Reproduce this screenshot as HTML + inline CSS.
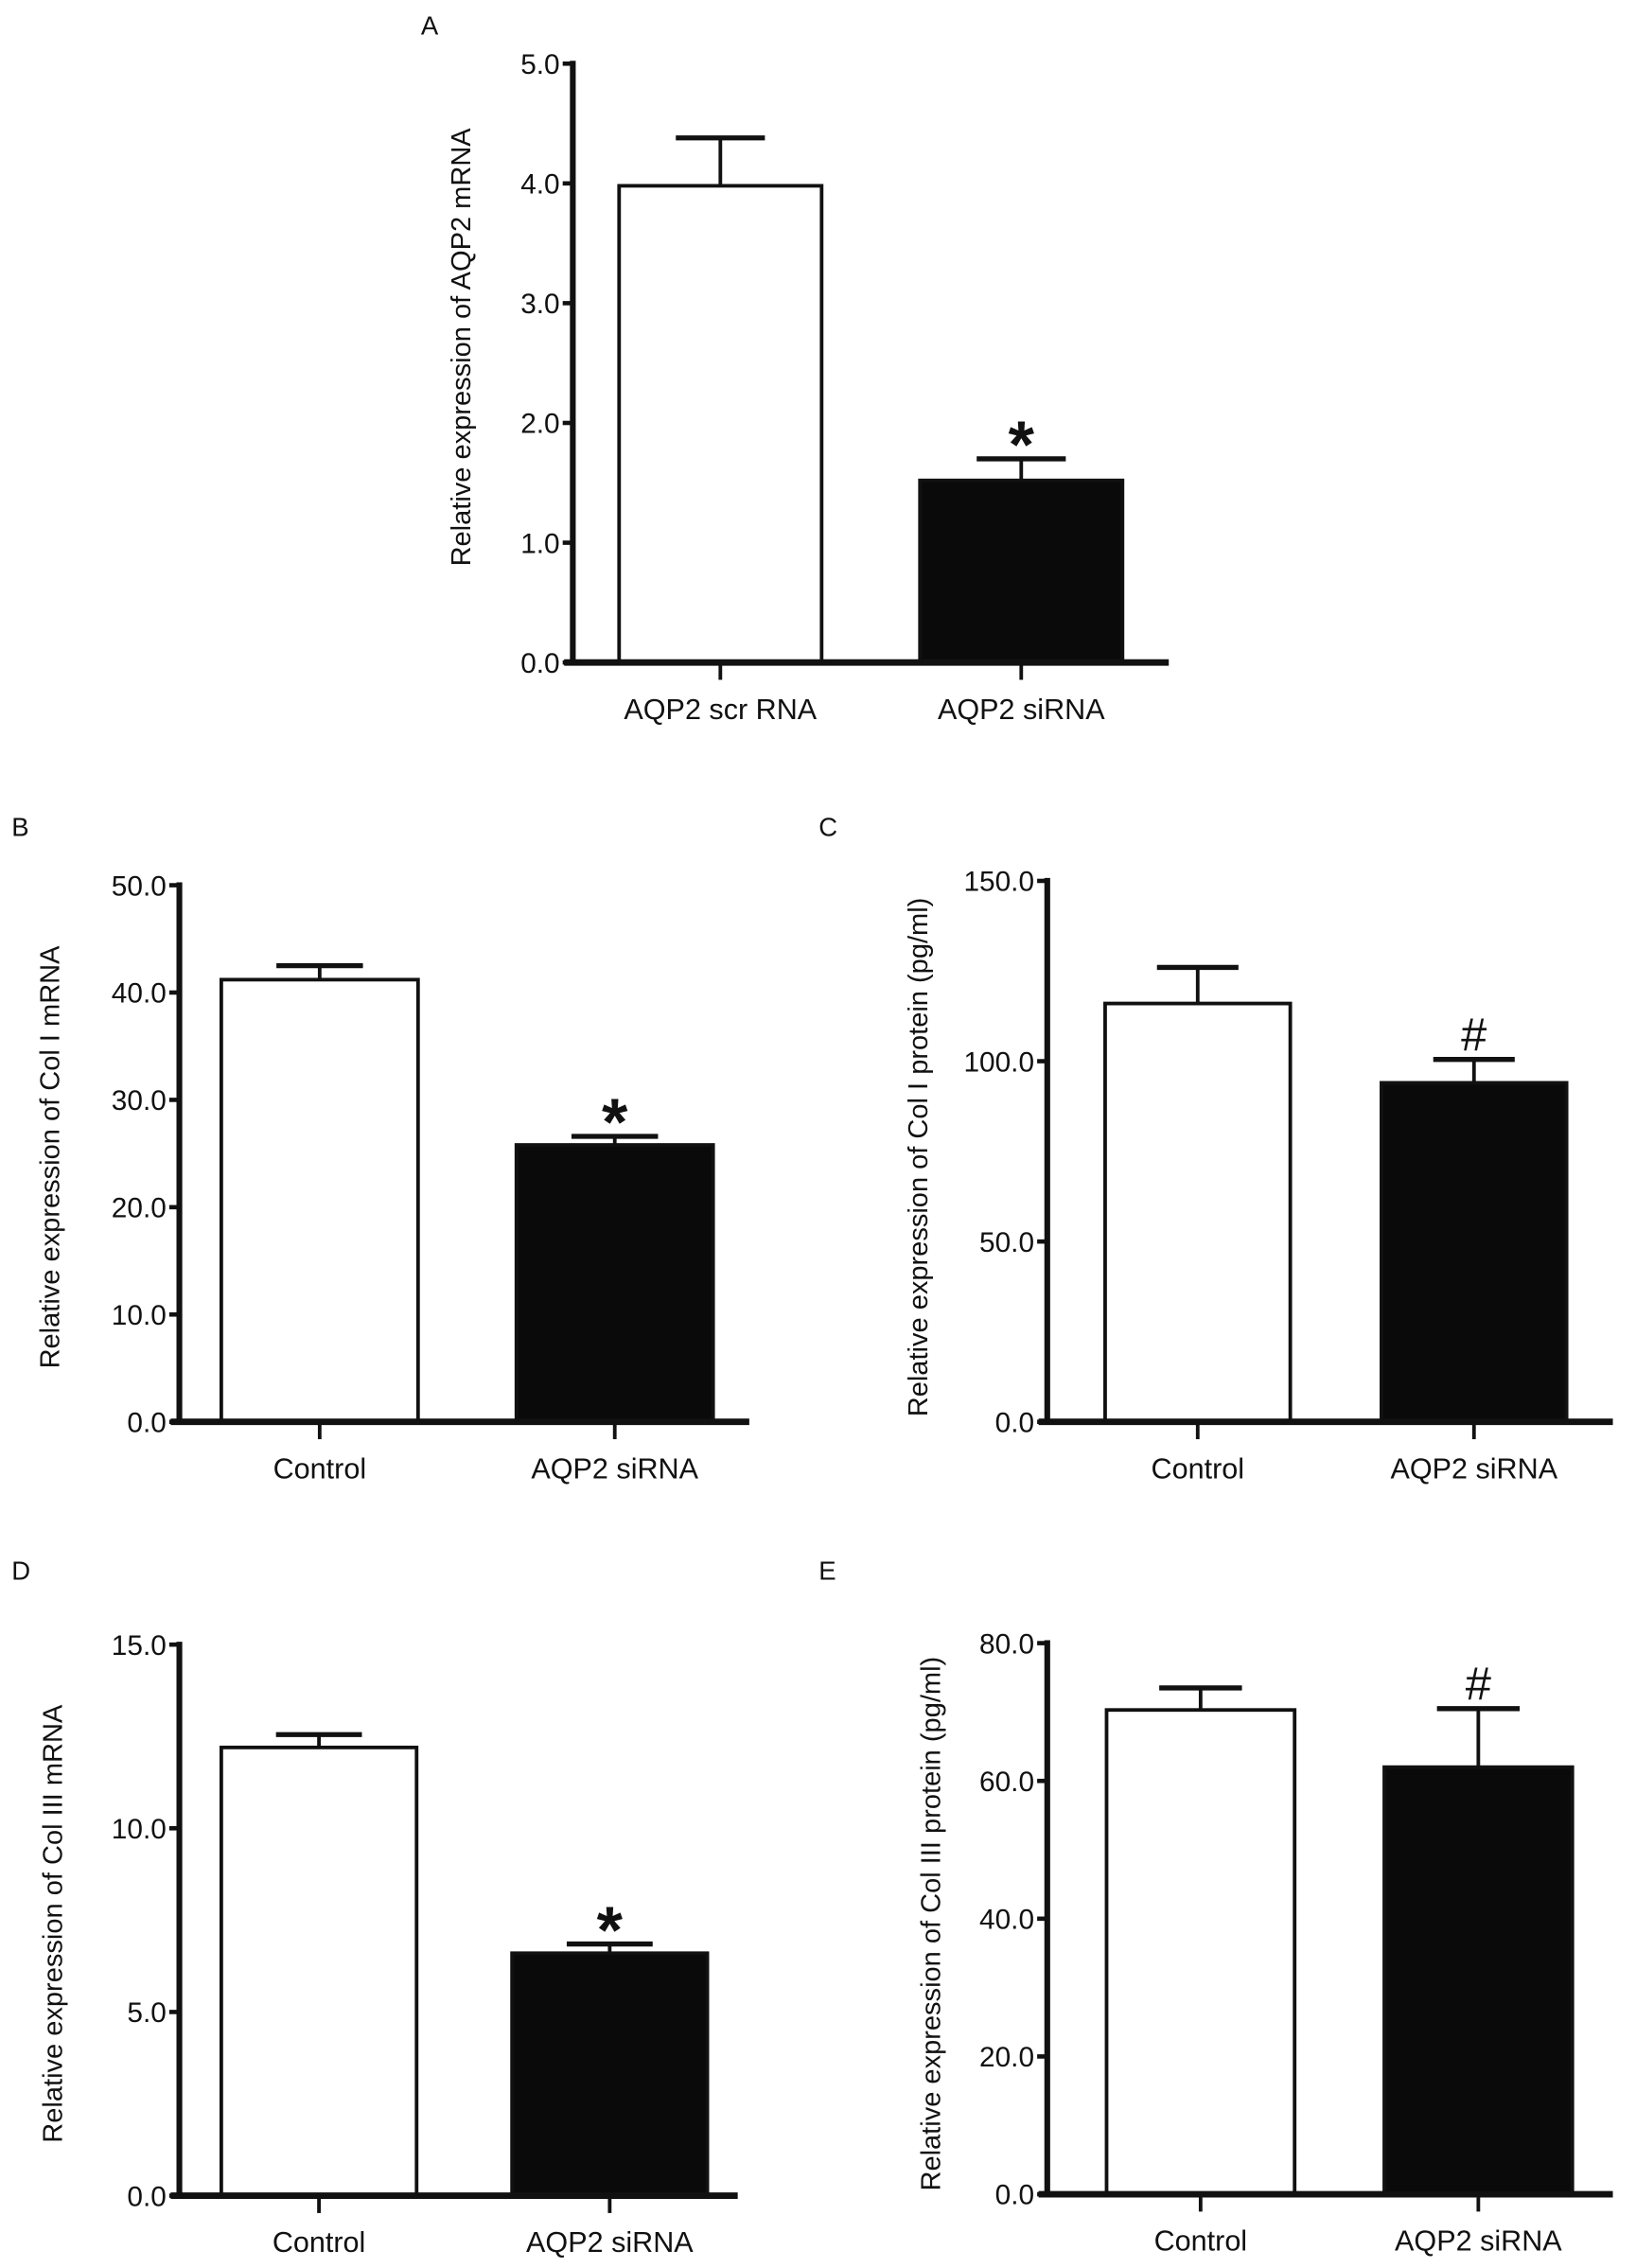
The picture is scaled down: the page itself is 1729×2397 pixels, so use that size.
<!DOCTYPE html>
<html><head><meta charset="utf-8">
<style>
html,body{margin:0;padding:0;background:#fff;}
svg{display:block;}
text{font-family:"Liberation Sans",Arial,sans-serif;fill:#111;}
</style></head>
<body>
<svg id="fig" width="1729" height="2397" viewBox="0 0 1131 1568" preserveAspectRatio="none" xmlns="http://www.w3.org/2000/svg"></svg>
<script>
// Panel data
const categoriesA = ["AQP2 scr RNA", "AQP2 siRNA"];
const valuesA = [3.98, 1.52];
const errorsA = [4.38, 1.70];
const ticksA = [0, 1, 2, 3, 4, 5];
const tickLabelsA = ["0.0", "1.0", "2.0", "3.0", "4.0", "5.0"];

const categoriesB = ["Control", "AQP2 siRNA"];
const valuesB = [41.2, 25.8];
const errorsB = [42.5, 26.6];
const ticksB = [0, 10, 20, 30, 40, 50];
const tickLabelsB = ["0.0", "10.0", "20.0", "30.0", "40.0", "50.0"];

const categoriesC = ["Control", "AQP2 siRNA"];
const valuesC = [116, 94];
const errorsC = [126, 100.5];
const ticksC = [0, 50, 100, 150];
const tickLabelsC = ["0.0", "50.0", "100.0", "150.0"];

const categoriesD = ["Control", "AQP2 siRNA"];
const valuesD = [12.2, 6.6];
const errorsD = [12.55, 6.85];
const ticksD = [0, 5, 10, 15];
const tickLabelsD = ["0.0", "5.0", "10.0", "15.0"];

const categoriesE = ["Control", "AQP2 siRNA"];
const valuesE = [70.3, 62.0];
const errorsE = [73.5, 70.5];
const ticksE = [0, 20, 40, 60, 80];
const tickLabelsE = ["0.0", "20.0", "40.0", "60.0", "80.0"];

const NS = "http://www.w3.org/2000/svg";
const svg = document.getElementById("fig");
function mk(tag, attrs, parent, txt){
  const e = document.createElementNS(NS, tag);
  for (const k in attrs) e.setAttribute(k, attrs[k]);
  if (txt !== undefined) e.textContent = txt;
  (parent || svg).appendChild(e);
  return e;
}

function panel(cfg){
  const g = mk("g", {});
  
  
  const y = v => cfg.y0 - (v / cfg.max) * (cfg.y0 - cfg.yTop);
  const lt = mk("text", {x: cfg.lx, y: cfg.ly, "font-size": 18}, g, cfg.letter);
  
  
  const yt = mk("text", {x: 0, y: 0, "font-size": 19, "text-anchor": "middle",
    transform: `translate(${cfg.tx},${cfg.tcy}) rotate(-90)`}, g, cfg.title);
  
  
  for (let i = 0; i < cfg.vals.length; i++){
    const x0 = cfg.bx[i], w = cfg.bw;
    const cx = x0 + w / 2;
    const top = y(cfg.vals[i]), et = y(cfg.errs[i]);
    const el = mk("line", {x1: cx, x2: cx, y1: top, y2: et, stroke: "#111", "stroke-width": 2.5}, g);
    
    
    const cap = mk("line", {x1: cx - w * 0.22, x2: cx + w * 0.22, y1: et, y2: et, stroke: "#111", "stroke-width": 3.5}, g);
    
    
    const r = mk("rect", {x: x0, y: top, width: w, height: cfg.y0 - top,
      fill: i === 0 ? "#fff" : "#0a0a0a", stroke: "#111", "stroke-width": 2.5}, g);
    
    
    const xt = mk("line", {x1: cx, x2: cx, y1: cfg.y0, y2: cfg.y0 + 12, stroke: "#111", "stroke-width": 2.5}, g);
    
    
    const xl = mk("text", {x: cx, y: cfg.y0 + 39, "font-size": 20, "text-anchor": "middle"}, g, cfg.cats[i]);
    
    
    if (i === 1){
      const m = mk("text", {x: cx, y: et - cfg.markOff + (cfg.mark === "*" ? 14 : 0), "font-size": cfg.mark === "*" ? 46 : 32,
        "text-anchor": "middle", "font-weight": cfg.mark === "*" ? "bold" : "normal",
        "font-family": cfg.mark === "*" ? "Liberation Sans" : "Liberation Serif"}, g, cfg.mark);
      
      
    }
  }
  const ya = mk("line", {x1: cfg.ax, x2: cfg.ax, y1: cfg.yTop - 2, y2: cfg.y0 + 2, stroke: "#111", "stroke-width": 4}, g);
  
  
  const xa = mk("line", {x1: cfg.ax - 6, x2: cfg.xEnd, y1: cfg.y0, y2: cfg.y0, stroke: "#111", "stroke-width": 4.5}, g);
  
  
  for (let i = 0; i < cfg.ticks.length; i++){
    const ty = y(cfg.ticks[i]);
    const tk = mk("line", {x1: cfg.ax - 7, x2: cfg.ax, y1: ty, y2: ty, stroke: "#111", "stroke-width": 3}, g);
    
    
    const tl = mk("text", {x: cfg.ax - 9, y: ty + 7, "font-size": 19.5, "text-anchor": "end"}, g, cfg.tickLabels[i]);
    
    
  }
}

panel({letter:"A", lx:291, ly:24, title:"Relative expression of AQP2 mRNA", tx:325, tcy:240,
  ax:396, yTop:44, y0:458, max:5, xEnd:808, bx:[428,636], bw:140,
  vals:valuesA, errs:errorsA, cats:categoriesA, ticks:ticksA, tickLabels:tickLabelsA, mark:"*", markOff:8});
panel({letter:"B", lx:8, ly:578, title:"Relative expression of Col I mRNA", tx:41, tcy:800,
  ax:124, yTop:612, y0:983, max:50, xEnd:518, bx:[153,357], bw:136,
  vals:valuesB, errs:errorsB, cats:categoriesB, ticks:ticksB, tickLabels:tickLabelsB, mark:"*", markOff:8});
panel({letter:"C", lx:566, ly:578, title:"Relative expression of Col I protein (pg/ml)", tx:641, tcy:800,
  ax:724, yTop:609, y0:983, max:150, xEnd:1115, bx:[764,955], bw:128,
  vals:valuesC, errs:errorsC, cats:categoriesC, ticks:ticksC, tickLabels:tickLabelsC, mark:"#", markOff:6});
panel({letter:"D", lx:8, ly:1092, title:"Relative expression of Col III mRNA", tx:43, tcy:1330,
  ax:124, yTop:1137, y0:1518, max:15, xEnd:510, bx:[153,354], bw:135,
  vals:valuesD, errs:errorsD, cats:categoriesD, ticks:ticksD, tickLabels:tickLabelsD, mark:"*", markOff:8});
panel({letter:"E", lx:566, ly:1092, title:"Relative expression of Col III protein (pg/ml)", tx:650, tcy:1330,
  ax:724, yTop:1136, y0:1517, max:80, xEnd:1115, bx:[765,957], bw:130,
  vals:valuesE, errs:errorsE, cats:categoriesE, ticks:ticksE, tickLabels:tickLabelsE, mark:"#", markOff:6});
</script>
</body></html>
